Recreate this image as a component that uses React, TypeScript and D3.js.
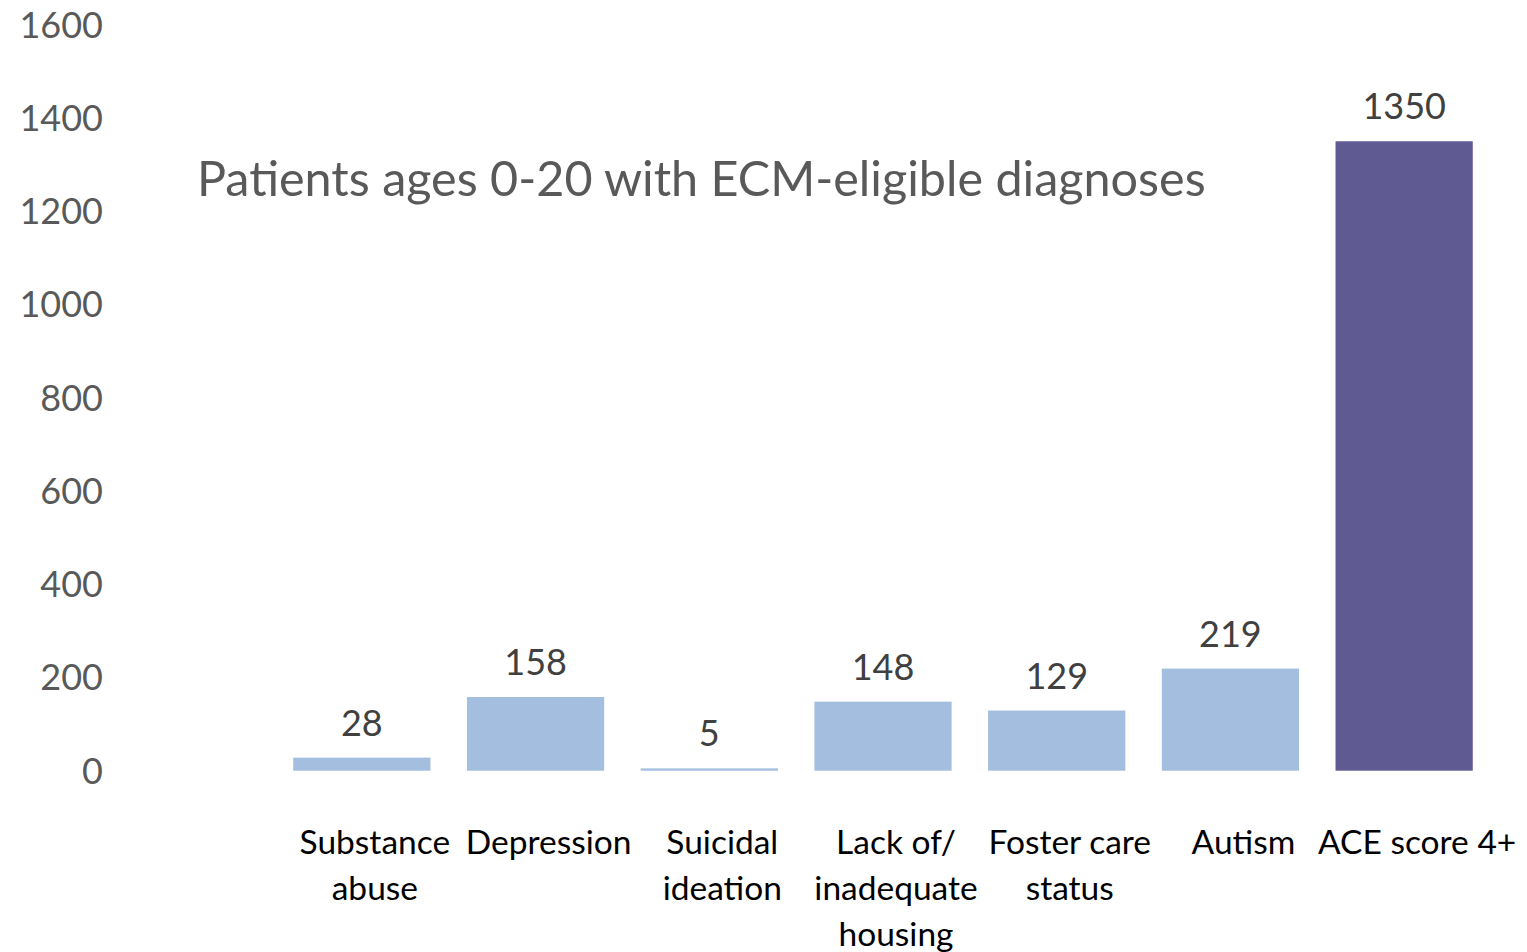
import * as d3 from "d3";
import { useEffect, useRef } from "react";

// chart data
const categories = [
  "Substance abuse",
  "Depression",
  "Suicidal ideation",
  "Lack of/ inadequate housing",
  "Foster care status",
  "Autism",
  "ACE score 4+",
];
const categoryLines = [
  ["Substance", "abuse"],
  ["Depression"],
  ["Suicidal", "ideation"],
  ["Lack of/", "inadequate", "housing"],
  ["Foster care", "status"],
  ["Autism"],
  ["ACE score 4+"],
];
const patients = [28, 158, 5, 148, 129, 219, 1350];
const highlighted = ["ACE score 4+"];
const yTicks = [0, 200, 400, 600, 800, 1000, 1200, 1400, 1600];
const title = "Patients ages 0-20 with ECM-eligible diagnoses";

const WIDTH = 1527;
const HEIGHT = 952;
const FONT = "Lato, 'Noto Sans', sans-serif";

const drawChart = (target: any) => {
  const svg = d3.select(target);
  svg.selectAll("*").remove();

  const x = d3
    .scaleBand()
    .domain(categories)
    .range([275, 1491])
    .paddingInner(0.21)
    .paddingOuter(0.105);
  const y = d3.scaleLinear().domain([0, 1600]).range([770.7, 24.7]);

  // y tick labels only, no axis line
  svg
    .append("g")
    .selectAll("text")
    .data(yTicks)
    .join("text")
    .attr("x", 103)
    .attr("y", (d) => y(d))
    .attr("dy", "0.36em")
    .attr("text-anchor", "end")
    .attr("font-family", FONT)
    .attr("font-size", 36)
    .attr("fill", "#595959")
    .text((d) => d);

  svg
    .append("g")
    .selectAll("rect")
    .data(patients)
    .join("rect")
    .attr("x", (_, i) => x(categories[i])!)
    .attr("width", x.bandwidth())
    .attr("y", (d) => y(d))
    .attr("height", (d) => y(0) - y(d))
    .attr("fill", (_, i) =>
      highlighted.includes(categories[i]) ? "#605A93" : "#A4BEDF"
    );

  svg
    .append("g")
    .selectAll("text")
    .data(patients)
    .join("text")
    .attr("x", (_, i) => x(categories[i])! + x.bandwidth() / 2)
    .attr("y", (d) => y(d) - 22)
    .attr("text-anchor", "middle")
    .attr("font-family", FONT)
    .attr("font-size", 36)
    .attr("fill", "#404040")
    .text((d) => d);

  // category labels, wrapped by hand like the original
  const labels = svg
    .append("g")
    .selectAll("text")
    .data(categoryLines)
    .join("text")
    .attr("text-anchor", "middle")
    .attr("font-family", FONT)
    .attr("font-size", 33.5)
    .attr("fill", "#000000")
    .attr("transform", (_, i) => {
      const cx = x(categories[i])! + x.bandwidth() / 2 + 13;
      return `translate(${cx},854)`;
    });
  labels
    .selectAll("tspan")
    .data((d) => d)
    .join("tspan")
    .attr("x", 0)
    .attr("y", (_, j) => j * 46)
    .text((d) => d);

  svg
    .append("text")
    .attr("x", 197)
    .attr("y", 196)
    .attr("font-family", FONT)
    .attr("font-size", 48.5)
    .attr("fill", "#595959")
    .text(title);
};

const App = () => {
  const ref = useRef<SVGSVGElement>(null);
  useEffect(() => {
    if (ref.current) drawChart(ref.current);
  }, []);
  return (
    <svg
      ref={ref}
      width={WIDTH}
      height={HEIGHT}
      style={{ position: "absolute", left: 0, top: 0, background: "#fff" }}
    />
  );
};

export default App;
